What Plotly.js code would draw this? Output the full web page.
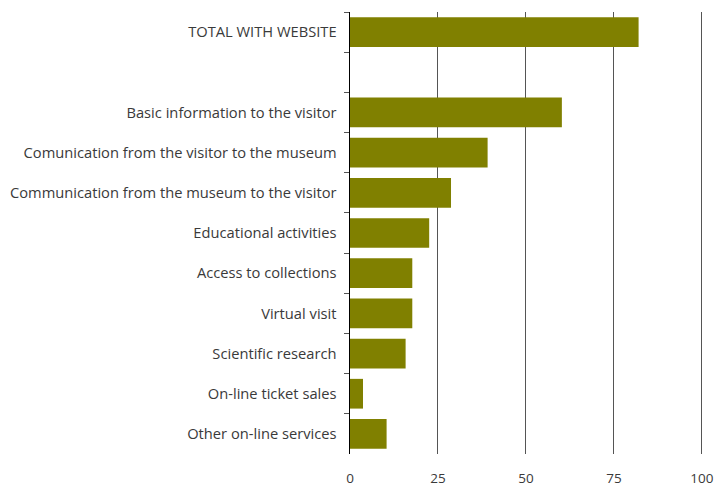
<!DOCTYPE html>
<html>
<head>
<meta charset="utf-8">
<script src="https://cdn.plot.ly/plotly-3.0.1.min.js"></script>
<style>html,body{margin:0;padding:0;background:#fff;}#chart{width:716px;height:488px;}</style>
</head>
<body>
<div id="chart"></div>
<script>
const categories = [
  "TOTAL WITH WEBSITE",
  " ",
  "Basic information to the visitor",
  "Comunication from the visitor to the museum",
  "Communication from the museum to the visitor",
  "Educational activities",
  "Access to collections",
  "Virtual visit",
  "Scientific research",
  "On-line ticket sales",
  "Other on-line services"
];
const values = [82, null, 60.2, 39.1, 28.7, 22.5, 17.7, 17.7, 15.8, 3.7, 10.4];
const xTicks = [0, 25, 50, 75, 100];

const trace = {
  type: 'bar',
  orientation: 'h',
  y: categories,
  x: values,
  marker: {color: '#808000'},
  hoverinfo: 'x+y'
};

const layout = {
  width: 716,
  height: 488,
  margin: {l: 350, r: 13, t: 12, b: 34},
  paper_bgcolor: '#fff',
  plot_bgcolor: '#fff',
  bargap: 0.26,
  showlegend: false,
  font: {family: '"Open Sans", sans-serif', size: 14.7, color: '#3a3a3a'},
  xaxis: {
    range: [0, 100.3],
    tickvals: xTicks,
    ticktext: xTicks.map(String),
    tickfont: {size: 13.5},
    showgrid: true,
    gridcolor: '#555',
    gridwidth: 1,
    zeroline: false,
    showline: false,
    ticks: '',
    ticklabelstandoff: 14,
    ticklabeloverflow: 'allow',
    layer: 'above traces',
    fixedrange: true
  },
  yaxis: {
    type: 'category',
    categoryorder: 'array',
    categoryarray: categories,
    autorange: 'reversed',
    showline: true,
    linecolor: '#000',
    linewidth: 1.5,
    ticks: 'outside',
    tickson: 'boundaries',
    ticklen: 5,
    tickcolor: '#555',
    ticklabelstandoff: 9,
    showgrid: false,
    zeroline: false,
    fixedrange: true
  }
};

Plotly.newPlot('chart', [trace], layout, {displayModeBar: false, staticPlot: true});
</script>
</body>
</html>
